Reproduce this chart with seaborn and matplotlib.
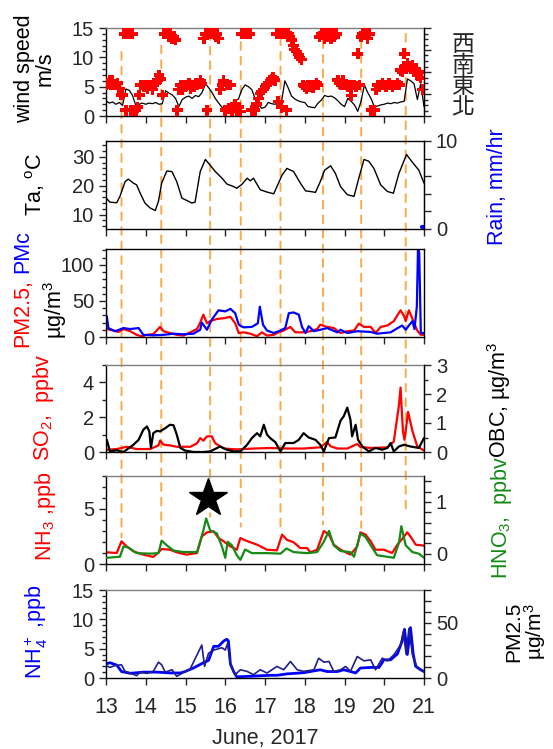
import numpy as np
import matplotlib
matplotlib.use("Agg")
import matplotlib.pyplot as plt
import seaborn as sns
from matplotlib.patches import ConnectionPatch
from matplotlib.ticker import MultipleLocator

sns.set_style("ticks")
plt.rcParams['font.family'] = ['Liberation Sans', 'Noto Sans CJK TC', 'DejaVu Sans']
plt.rcParams['mathtext.fontset'] = 'custom'
plt.rcParams['mathtext.rm'] = 'Liberation Sans'
plt.rcParams['mathtext.it'] = 'Liberation Sans:italic'
plt.rcParams['font.size'] = 14.5

# ---------------- data (days of June 2017) ----------------
# wind direction, hourly, read on the 0-15 grid of the wind speed axis (1 unit = 24 deg)
wd_grid = [5.3, 5.6, 6.0, 5.3, 6.0, 5.3, 5.3, 5.6, 4.7, 3.6, 3.6, 14.0, 1.0, 14.0, 14.0, 1.0, 14.0, 1.0, 1.0, 1.5, 3.6, 5.3, 5.3, 5.0,
           5.3, 4.6, 5.3, 5.3, 4.5, 5.3, 5.6, 6.1, 7.0, 6.3, 3.6, 14.0, 14.0, 14.0, 13.5, 14.0, 13.2, 13.5, 13.0, 1.0, 4.5, 5.3, 4.5, 5.3,
           5.0, 5.3, 5.6, 4.7, 5.3, 5.0, 5.6, 5.3, 5.6, 6.0, 5.5, 13.2, 14.0, 1.0, 14.0, 14.0, 14.0, 14.0, 13.5, 14.0, 13.2, 4.5, 5.3, 6.0,
           1.0, 5.3, 1.3, 5.3, 0.8, 1.5, 2.0, 1.0, 1.5, 0.8, 14.0, 14.0, 14.0, 14.0, 14.0, 14.0, 1.0, 1.0, 1.0, 2.0, 3.0, 3.8, 4.2, 4.5,
           5.0, 5.3, 5.6, 6.0, 6.3, 6.5, 6.1, 14.0, 2.5, 14.0, 1.5, 14.0, 14.0, 1.0, 14.0, 13.5, 13.0, 12.0, 11.3, 11.0, 10.5, 10.0, 9.6, 5.3,
           5.0, 4.7, 5.3, 5.0, 5.3, 4.8, 5.3, 5.6, 5.3, 13.5, 14.0, 14.0, 13.2, 14.0, 13.5, 14.0, 13.2, 14.0, 13.5, 14.0, 6.1, 5.6, 5.3, 6.0,
           5.3, 5.3, 5.0, 5.3, 3.5, 5.3, 5.3, 5.0, 10.6, 5.3, 13.5, 14.0, 14.0, 14.0, 13.2, 14.0, 1.0, 1.0, 1.0, 4.5, 5.3, 5.0, 5.3, 5.6,
           5.3, 5.0, 5.3, 5.6, 5.3, 5.0, 5.3, 5.3, 5.6, 5.3, 7.8, 7.5, 10.6, 8.5, 9.0, 8.5, 8.0, 8.7, 7.8, 8.0, 6.9, 7.5, 6.5, 4.5,
           4.5]
wind_dir = np.array(wd_grid) * 24
wd_time = 13 + np.arange(len(wd_grid)) / 24

# wind speed, 2-hourly (m/s)
wind_speed = [2.6, 2.2, 2.4, 2.0, 2.3, 1.8, 4.6, 4.4, 3.5, 1.8, 2.0, 2.2,
              2.0, 2.2, 2.1, 2.3, 2.0, 2.1, 4.3, 3.9, 3.6, 3.0, 1.6, 2.8,
              3.2, 3.4, 3.0, 3.5, 3.3, 4.0, 5.5, 4.8, 4.0, 3.0, 2.2, 1.5,
              1.0, 2.0, 2.2, 2.6, 2.9, 4.5, 5.3, 5.0, 4.5, 3.0, 2.0, 1.3,
              1.5, 2.3, 2.1, 2.0, 2.3, 2.5, 6.0, 4.8, 3.4, 2.9, 2.6, 2.4,
              2.3, 1.6, 1.5, 1.4, 2.2, 2.7, 3.5, 3.3, 3.4, 3.1, 2.6, 2.0,
              1.6, 3.0, 2.5, 1.9, 0.8, 2.5, 5.3, 4.0, 3.0, 1.6, 1.7, 1.9,
              2.0, 2.2, 2.1, 2.3, 2.2, 2.4, 2.5, 6.3, 6.0, 5.5, 2.8, 5.5,
              1.6]
ws_time = 13 + np.arange(len(wind_speed)) / 12

# air temperature (deg C)
ta_t = [13.02, 13.10, 13.27, 13.35, 13.48, 13.56, 13.69, 13.77, 13.86, 13.98, 14.11, 14.24, 14.32, 14.40, 14.53, 14.66,
        14.78, 14.91, 15.03, 15.16, 15.24, 15.37, 15.50, 15.62, 15.75, 15.92, 16.04, 16.21, 16.29, 16.42, 16.55, 16.63,
        16.71, 16.88, 17.05, 17.22, 17.32, 17.43, 17.55, 17.72, 17.89, 18.02, 18.14, 18.27, 18.39, 18.50, 18.65, 18.77,
        18.90, 19.07, 19.24, 19.36, 19.49, 19.61, 19.74, 19.91, 20.08, 20.23, 20.37, 20.56, 20.71, 20.87, 21.00]
ta = [15.5, 14.3, 14.1, 16.3, 21.4, 22.3, 20.9, 20.3, 17.4, 14.0, 12.3, 11.4, 14.6, 20.9, 25.1, 24.9,
      21.4, 15.7, 14.9, 14.0, 14.3, 24.9, 29.1, 27.1, 24.9, 22.6, 20.6, 19.7, 19.1, 20.5, 22.6, 21.7,
      22.6, 18.6, 17.8, 17.2, 20.3, 23.7, 26.0, 24.9, 20.9, 18.2, 18.0, 17.7, 21.4, 25.4, 26.9, 24.3,
      19.7, 16.9, 16.3, 22.6, 29.1, 28.5, 26.0, 20.3, 18.0, 17.4, 24.3, 30.8, 28.1, 25.4, 20.9]

# rain (mm/hr)
rain_t = [20.95, 21.00]
rain = [0.25, 0.25]

# PM2.5 and PMc (ug/m3)
pm25_t = [13.02, 13.18, 13.31, 13.44, 13.61, 13.77, 13.90, 14.03, 14.19, 14.36, 14.45, 14.61, 14.78, 14.95, 15.12, 15.29,
          15.37, 15.45, 15.54, 15.62, 15.79, 15.96, 16.13, 16.25, 16.34, 16.46, 16.63, 16.80, 16.92, 17.05, 17.22, 17.34,
          17.47, 17.64, 17.76, 17.97, 18.14, 18.31, 18.39, 18.56, 18.73, 18.90, 19.07, 19.24, 19.36, 19.49, 19.66, 19.78,
          19.91, 20.08, 20.24, 20.41, 20.50, 20.54, 20.62, 20.71, 20.83, 20.92, 21.00]
pm25 = [11, 9, 7, 11, 8, 3, 1, 3, 4, 14, 8, 5.5, 3, 2, 6.5, 11,
        20, 31, 19, 22, 25, 26, 28, 19, 5.5, 6.5, 4.6, 1, 6.5, 2, 3, 6.5,
        9, 14, 6.5, 6.5, 8, 11, 17, 14, 12.5, 5.5, 8, 9, 18.5, 14, 14, 5.5,
        14, 16, 22, 37, 29, 22, 37, 25, 9, 3, 3]
pmc_t = [13.02, 13.06, 13.23, 13.44, 13.61, 13.82, 13.94, 14.19, 14.45, 14.70, 14.95, 15.20, 15.37, 15.41, 15.54, 15.66,
         15.83, 16.00, 16.13, 16.25, 16.34, 16.46, 16.67, 16.82, 16.87, 16.95, 17.05, 17.22, 17.39, 17.51, 17.60, 17.72,
         17.85, 17.93, 18.02, 18.10, 18.23, 18.39, 18.56, 18.82, 18.90, 19.07, 19.32, 19.66, 19.82, 20.16, 20.45, 20.54,
         20.62, 20.71, 20.76, 20.82, 20.85, 20.88, 20.92, 21.00]
pmc = [29, 12.4, 8, 12.4, 11, 12.4, 3, 2.3, 3, 4.6, 3.7, 4.6, 10, 20, 10, 24,
       37, 35.5, 39, 33, 17, 13.4, 14, 19, 42, 17, 9, 5.5, 9, 12.4, 33, 34,
       31, 14, 5.5, 15, 8, 10, 12.4, 6.5, 10, 5.5, 8, 7, 4.6, 6.5, 16, 10,
       16, 22, 11, 42, 125, 116, 5.5, 5.5]

# SO2 (ppbv) and OBC (ug/m3)
so2_t = [13.02, 13.27, 13.52, 13.77, 14.11, 14.32, 14.36, 14.45, 14.61, 14.78, 15.12, 15.29, 15.37, 15.45, 15.54, 15.66,
         15.75, 15.96, 16.29, 16.71, 17.13, 17.55, 17.97, 18.39, 18.56, 18.65, 18.82, 19.07, 19.32, 19.40, 19.66, 20.08,
         20.24, 20.37, 20.41, 20.47, 20.51, 20.60, 20.71, 20.83, 21.00]
so2 = [0.13, 0.17, 0.3, 0.17, 0.17, 0.38, 0.65, 0.42, 0.38, 0.3, 0.3, 0.5, 0.8, 0.65, 0.9, 0.9,
       0.5, 0.2, 0.15, 0.2, 0.23, 0.2, 0.2, 0.27, 0.57, 0.33, 0.2, 0.2, 0.46, 0.29, 0.23, 0.27,
       0.6, 2.7, 3.7, 1.2, 0.7, 2.3, 1.2, 0.33, 0.08]
obc_t = [13.02, 13.10, 13.27, 13.44, 13.52, 13.69, 13.82, 13.94, 14.03, 14.09, 14.13, 14.19, 14.28, 14.36, 14.49, 14.61,
         14.70, 14.78, 14.87, 14.99, 15.20, 15.45, 15.62, 15.87, 16.04, 16.21, 16.38, 16.55, 16.67, 16.80, 16.88, 16.97,
         17.05, 17.13, 17.26, 17.39, 17.51, 17.72, 17.85, 17.97, 18.10, 18.27, 18.39, 18.48, 18.61, 18.77, 18.90, 18.98,
         19.07, 19.15, 19.19, 19.28, 19.34, 19.45, 19.61, 19.78, 19.95, 20.08, 20.16, 20.24, 20.37, 20.50, 20.66, 20.87, 21.00]
obc = [0.42, 0.02, 0.06, 0.0, 0.08, 0.25, 0.42, 0.77, 0.88, 0.71, 0.14, 0.65, 0.73, 0.71, 0.82, 0.94,
       0.92, 0.6, 0.14, 0.05, 0.0, 0.0, 0.02, 0.19, 0.08, 0.02, 0.02, 0.25, 0.48, 0.65, 0.54, 0.94,
       0.6, 0.48, 0.34, 0.02, 0.31, 0.31, 0.42, 0.65, 0.5, 0.42, 0.25, 0.02, 0.48, 0.5, 1.08, 1.23,
       1.53, 1.11, 0.54, 0.94, 0.42, 0.19, 0.02, 0.14, 0.08, 0.14, 0.31, 0.02, 0.19, 0.25, 0.19, 0.14, 0.48]

# NH3 (ppb) and HNO3 (ppbv)
nh3_t = [13.02, 13.27, 13.39, 13.52, 13.69, 13.94, 14.19, 14.32, 14.40, 14.61, 14.78, 15.03, 15.29, 15.41, 15.54, 15.71,
         15.83, 15.96, 16.13, 16.29, 16.38, 16.50, 16.80, 17.05, 17.30, 17.43, 17.55, 17.72, 17.89, 18.06, 18.14, 18.31,
         18.48, 18.61, 18.73, 18.90, 19.15, 19.32, 19.40, 19.53, 19.66, 19.78, 19.99, 20.20, 20.33, 20.50, 20.58, 20.66,
         20.79, 21.00]
nh3 = [1.06, 1.0, 2.06, 1.6, 1.15, 0.85, 0.64, 1.06, 1.36, 1.3, 1.06, 0.85, 1.0, 2.5, 2.88, 2.97,
       2.36, 2.06, 1.6, 1.3, 2.36, 2.15, 1.76, 1.3, 1.24, 2.67, 2.2, 1.97, 1.45, 1.45, 1.06, 1.3,
       3.0, 2.67, 1.76, 1.3, 0.85, 1.6, 2.88, 2.67, 2.06, 1.3, 1.3, 1.0, 1.76, 2.5, 2.88, 2.5,
       1.76, 1.67]
hno3_t = [13.02, 13.35, 13.44, 13.56, 13.77, 14.11, 14.32, 14.40, 14.53, 14.70, 14.95, 15.29, 15.45, 15.52, 15.62, 15.79,
          15.92, 16.00, 16.06, 16.17, 16.29, 16.38, 16.50, 16.67, 17.05, 17.39, 17.54, 17.72, 18.06, 18.31, 18.48, 18.61,
          18.73, 18.90, 19.15, 19.24, 19.40, 19.53, 19.66, 19.82, 20.24, 20.37, 20.43, 20.54, 20.71, 20.87, 21.00]
hno3 = [-0.08, -0.06, 0.14, 0.12, 0.01, 0.0, 0.01, 0.25, 0.16, 0.06, 0.03, 0.03, 0.45, 0.68, 0.45, 0.39,
        0.13, -0.08, 0.23, 0.16, -0.03, -0.12, 0.08, 0.01, 0.01, 0.0, 0.1, 0.03, 0.01, 0.03, 0.23, 0.44,
        0.16, 0.05, 0.03, -0.06, 0.39, 0.32, 0.16, -0.03, -0.08, 0.21, 0.53, 0.16, 0.03, 0.0, -0.08]

# NH4+ (ppb) and PM2.5 (ug/m3)
nh4_t = [13.00, 13.10, 13.27, 13.39, 13.61, 13.94, 14.28, 14.61, 14.87, 14.99, 15.20, 15.45, 15.58, 15.71, 15.83, 15.96,
         16.04, 16.08, 16.13, 16.21, 16.29, 16.63, 17.13, 17.30, 17.55, 17.97, 18.39, 18.56, 18.82, 18.98, 19.15, 19.28,
         19.40, 19.66, 19.87, 19.99, 20.16, 20.33, 20.45, 20.51, 20.58, 20.66, 20.73, 20.79, 20.92, 21.00]
nh4 = [2.4, 2.6, 2.2, 1.1, 0.8, 1.0, 1.0, 0.86, 0.86, 1.1, 1.7, 2.6, 3.0, 5.4, 5.4, 6.3,
       6.6, 6.3, 2.4, 1.1, 0.2, 0.3, 0.46, 0.46, 0.7, 0.9, 1.4, 1.1, 1.1, 1.4, 1.1, 0.86,
       1.7, 1.8, 1.8, 3.1, 3.1, 4.1, 6.3, 8.3, 4.0, 8.6, 4.0, 2.0, 1.4, 1.1]
pm25b_t = [13.00, 13.10, 13.23, 13.39, 13.48, 13.61, 13.77, 13.86, 14.03, 14.19, 14.32, 14.40, 14.49, 14.66, 14.78, 14.91,
           15.12, 15.29, 15.41, 15.48, 15.58, 15.71, 15.92, 16.00, 16.06, 16.13, 16.25, 16.38, 16.55, 16.71, 16.88, 17.05,
           17.30, 17.47, 17.64, 17.81, 17.97, 18.23, 18.35, 18.48, 18.61, 18.73, 18.90, 19.03, 19.15, 19.32, 19.49, 19.66,
           19.78, 19.95, 20.08, 20.24, 20.41, 20.48, 20.55, 20.62, 20.71, 20.83, 20.96, 21.00]
pm25b = [11.4, 9.6, 11.4, 12, 6, 4.5, 2.1, 5.4, 4.2, 6, 14.4, 12, 5.4, 7.5, 1.5, 4.2,
         8.4, 21, 30, 10.5, 22.5, 25.4, 27.5, 25.4, 31.4, 12, 3, 7.5, 6, 3, 7.5, 4.5,
         10.5, 7.5, 15, 7.5, 6, 7.5, 18, 14.4, 15, 6, 7.5, 10.5, 6, 19.5, 15.6, 16.5,
         7.5, 18, 15.6, 21, 30, 42, 21.6, 45, 21, 9, 6, 6]

# marked events (dashed lines) and star
event_days = [13.39, 14.39, 15.62, 16.39, 17.39, 18.46, 19.42, 20.54]
dash_top = [10.9, 12.0, 14.3, 12.6, 13.4, 12.9, 12.9, 14.0]
dash_bottom = [2.4, 1.9, 4.3, 3.4, 3.4, 3.6, 3.3, 4.6]
star_day, star_level = 15.57, 6.0

RED, BLUE, GREEN, NAVY, ORANGE = '#ff0000', '#0000ff', '#158a15', '#1f1f8f', '#f9aa4c'
LAB = 15.5

# ---------------- layout ----------------
W, H = 553, 749
L, R = 106, 424
fig = plt.figure(figsize=(W / 100, H / 100), dpi=100)


def panel(top, bottom):
    ax = fig.add_axes([L / W, 1 - bottom / H, (R - L) / W, (bottom - top) / H])
    ax.patch.set_alpha(0)
    ax.set_xlim(13, 21)
    ax.xaxis.set_major_locator(MultipleLocator(1))
    ax.tick_params(which='both', direction='out', width=1)
    ax.tick_params(which='major', length=5)
    ax.tick_params(which='minor', length=3)
    ax.set_xticklabels([])
    for s in ax.spines.values():
        s.set_linewidth(1.0)
        s.set_color('k')
    return ax


def twin(ax):
    axr = ax.twinx()
    axr.tick_params(which='both', direction='out', width=1)
    axr.tick_params(which='major', length=5)
    axr.tick_params(which='minor', length=3)
    for k in ['top', 'bottom', 'left']:
        axr.spines[k].set_visible(False)
    axr.spines['right'].set_color('k')
    return axr


def vlabel(x, y, s, color='k', **kw):
    fig.text(x / W, 1 - y / H, s, rotation=90, ha='center', va='center', color=color,
             fontsize=kw.pop('fontsize', LAB), **kw)


ax1 = panel(28, 116)
ax2 = panel(141, 229)
ax3 = panel(249, 337)
ax4 = panel(365, 452)
ax5 = panel(476, 564)
ax6 = panel(590, 678)
for ax in (ax1, ax4, ax5, ax6):
    ax.spines['top'].set_color('#7f7f7f')

# panel 1: wind speed + direction
ax1r = twin(ax1)
sns.lineplot(x=ws_time, y=wind_speed, ax=ax1, color='k', lw=0.9, estimator=None, sort=False)
sns.scatterplot(x=wd_time, y=wind_dir, ax=ax1r, color=RED, marker='P', s=60, edgecolor='none', zorder=1)
ax1.set_ylim(0, 15)
ax1.yaxis.set_major_locator(MultipleLocator(5))
ax1.yaxis.set_minor_locator(MultipleLocator(1))
ax1r.set_ylim(0, 360)
ax1r.yaxis.set_major_locator(MultipleLocator(90))
ax1r.yaxis.set_minor_locator(MultipleLocator(22.5))
ax1r.set_yticklabels([])

# panel 2: temperature + rain
ax2r = twin(ax2)
sns.lineplot(x=ta_t, y=ta, ax=ax2, color='k', lw=1.0, estimator=None, sort=False)
sns.lineplot(x=rain_t, y=rain, ax=ax2r, color=BLUE, lw=3, estimator=None, sort=False)
ax2.set_ylim(5, 35.5)
ax2.yaxis.set_major_locator(MultipleLocator(10))
ax2.yaxis.set_minor_locator(MultipleLocator(2))
ax2r.set_ylim(0, 10)
ax2r.set_yticks([0, 2, 4, 6, 8, 10])
ax2r.set_yticklabels(['0', '', '', '', '', '10'])

# panel 3: PM2.5 and PMc
sns.lineplot(x=pm25_t, y=pm25, ax=ax3, color=RED, lw=1.6, estimator=None, sort=False)
sns.lineplot(x=pmc_t, y=pmc, ax=ax3, color=BLUE, lw=1.6, estimator=None, sort=False)
ax3.set_ylim(0, 122)
ax3.yaxis.set_major_locator(MultipleLocator(50))
ax3.yaxis.set_minor_locator(MultipleLocator(10))

# panel 4: SO2 and OBC
ax4r = twin(ax4)
sns.lineplot(x=so2_t, y=so2, ax=ax4, color=RED, lw=1.6, estimator=None, sort=False)
sns.lineplot(x=obc_t, y=obc, ax=ax4r, color='k', lw=1.6, estimator=None, sort=False)
ax4.set_ylim(0, 5)
ax4.yaxis.set_major_locator(MultipleLocator(2))
ax4.yaxis.set_minor_locator(MultipleLocator(1))
ax4r.set_ylim(0, 3)
ax4r.yaxis.set_major_locator(MultipleLocator(1))
ax4r.yaxis.set_minor_locator(MultipleLocator(0.5))

# panel 5: NH3 and HNO3
ax5r = twin(ax5)
sns.lineplot(x=nh3_t, y=nh3, ax=ax5, color=RED, lw=1.6, estimator=None, sort=False)
sns.lineplot(x=hno3_t, y=hno3, ax=ax5r, color=GREEN, lw=1.6, estimator=None, sort=False)
ax5.plot([star_day], [star_level], marker='*', color='k', ms=29, zorder=5)
ax5.set_ylim(0, 8)
ax5.yaxis.set_major_locator(MultipleLocator(5))
ax5.yaxis.set_minor_locator(MultipleLocator(1))
r_ticks = np.round(np.arange(-0.2, 1.41, 0.2), 1)
ax5r.set_ylim(-0.2, 1.5)
ax5r.set_yticks(r_ticks)
ax5r.set_yticklabels([str(int(v)) if v in (0.0, 1.0) else '' for v in r_ticks])

# panel 6: NH4+ and PM2.5
ax6r = twin(ax6)
sns.lineplot(x=nh4_t, y=nh4, ax=ax6, color=BLUE, lw=2.0, estimator=None, sort=False)
sns.lineplot(x=pm25b_t, y=pm25b, ax=ax6r, color=NAVY, lw=1.2, estimator=None, sort=False)
ax6.set_ylim(0, 15)
ax6.yaxis.set_major_locator(MultipleLocator(5))
ax6.yaxis.set_minor_locator(MultipleLocator(1))
ax6r.set_ylim(0, 80)
ax6r.set_yticks(range(0, 81, 10))
ax6r.set_yticklabels(['0', '', '', '', '', '50', '', '', ''])
ax6.set_xticks(range(13, 22))
ax6.set_xticklabels([str(d) for d in range(13, 22)], fontsize=15.5)
ax6.tick_params(axis='x', pad=9)
ax6.set_xlabel('June, 2017', fontsize=LAB, labelpad=7)

for ax in (ax1, ax2, ax3, ax4, ax5, ax6, ax1r, ax2r, ax4r, ax5r, ax6r):
    ax.set_ylabel('')
for ax in (ax1, ax2, ax3, ax4, ax5):
    ax.set_xlabel('')
    ax.set_xlim(13, 21)
ax6.set_xlim(13, 21)

# dashed event lines running from the top panel down to the NH3 panel (behind the data)
for d, y0, y1 in zip(event_days, dash_top, dash_bottom):
    con = ConnectionPatch(xyA=(d, y0), coordsA='data', axesA=ax1,
                          xyB=(d, y1), coordsB='data', axesB=ax5,
                          color=ORANGE, lw=1.4, linestyle=(0, (4, 3.5)), zorder=-1)
    fig.add_artist(con)

# axis titles
vlabel(35, 69, 'wind speed\nm/s', linespacing=1.0)
vlabel(35, 185, r'Ta, $\mathregular{^oC}$')
fig.text(23 / W, 1 - 279 / H, 'PM2.5,', color=RED, rotation=90, rotation_mode='anchor',
         ha='right', va='center', fontsize=LAB)
fig.text(23 / W, 1 - 273 / H, 'PMc', color=BLUE, rotation=90, rotation_mode='anchor',
         ha='left', va='center', fontsize=LAB)
vlabel(55, 310, r'µg/m$^3$')
vlabel(43, 408, r'SO$_2$,  ppbv', color=RED)
vlabel(45, 516, r'NH$_3$ ,ppb', color=RED)
vlabel(36, 632, r'NH$_4^+$ ,ppb', color=BLUE)

fig.text(463 / W, 1 - 76 / H, '西\n南\n東\n北', ha='center', va='center', fontsize=16.5,
         linespacing=0.9, family=['Noto Sans CJK TC'])
vlabel(497, 187, 'Rain, mm/hr', color=BLUE)
vlabel(499, 400, r'OBC, µg/m$^3$')
vlabel(502, 517, r'HNO$_3$,  ppbv', color=GREEN)
vlabel(526, 632, 'PM2.5\n' + r'µg/m$^3$', linespacing=0.95, fontsize=15)

fig.savefig('out.png', dpi=100)
